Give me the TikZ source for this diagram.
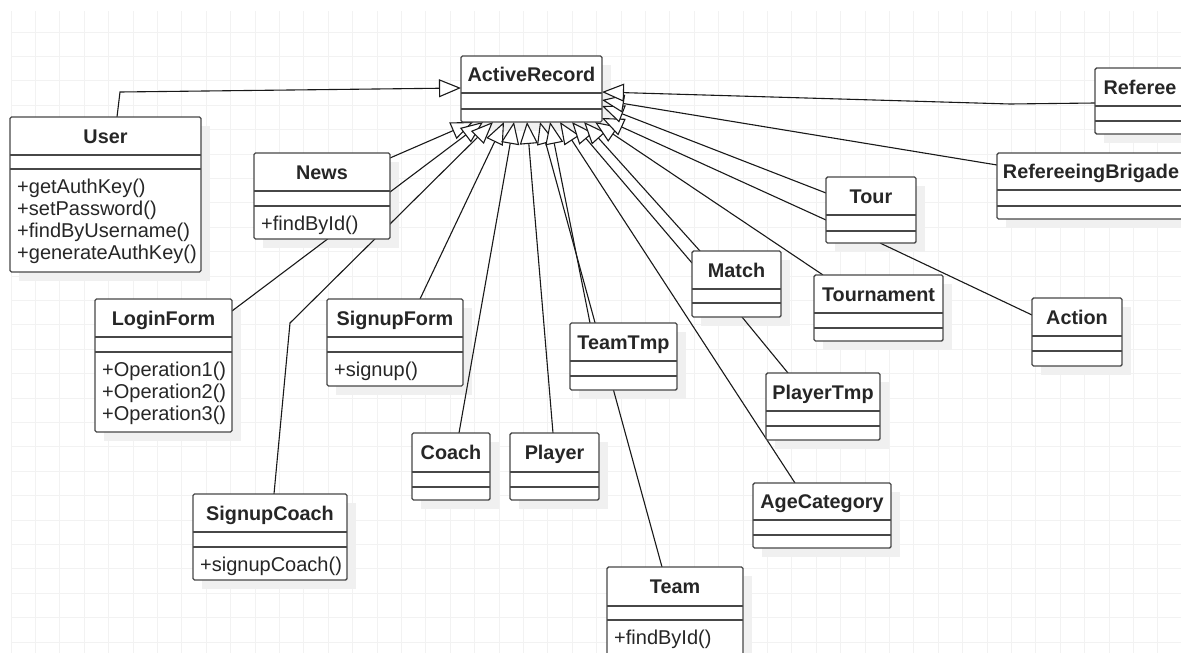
\documentclass[tikz,border=0pt]{standalone}
\usepackage{fontspec}
\setmainfont{Liberation Sans}
\usetikzlibrary{arrows.meta,calc}
\pgfdeclarelayer{gridl}
\pgfdeclarelayer{shadowl}
\pgfdeclarelayer{connl}
\pgfsetlayers{gridl,shadowl,connl,main}

\tikzset{
  gridline/.style={draw=black!5, line width=1pt},
  boxshadow/.style={fill=black!6},
  classbox/.style={draw=black!72, line width=1.4pt, fill=white, rounded corners=1.5pt, inner sep=0pt, outer sep=0pt},
  sepline/.style={draw=black!72, line width=1.4pt},
  classname/.style={font=\bfseries\fontsize{19.8}{22}\selectfont, text=black!85, inner sep=0pt, anchor=base},
  opname/.style={font=\fontsize{20}{22}\selectfont, text=black!85, inner sep=0pt, anchor=base west},
  assoc/.style={draw=black!90, line width=1.1pt},
  inherit/.style={assoc, -{Triangle[length=22pt, width=18pt, fill=white]}},
}

% #1 node name, (#2,#3) top-left corner, #4 width,
% #5 name / #6 attribute / #7 operation compartment heights,
% #8 class name, #9 operations
\newcommand\umlclass[9]{%
  \pgfmathsetmacro\uH{#5+#6+#7}%
  \pgfmathsetmacro\uA{#3+#5}%
  \pgfmathsetmacro\uB{#3+#5+#6}%
  \pgfmathsetmacro\uT{#3+#5/2+7}%
  \pgfmathsetmacro\uC{#2+#4/2}%
  \begin{pgfonlayer}{shadowl}
    \fill[boxshadow] (#2+9,#3+9) rectangle ++(#4,\uH);
  \end{pgfonlayer}
  \node[classbox, anchor=north west, minimum width=#4pt, minimum height=\uH pt] (#1) at (#2,#3) {};
  \draw[sepline] (#2,\uA) -- ++(#4,0);
  \draw[sepline] (#2,\uB) -- ++(#4,0);
  \node[classname] at (\uC,\uT) {#8};
  \foreach \opline [count=\opidx] in {#9} {
    \node[opname] at (#2+7, \uB+24+22*\opidx-22) {\opline};
  }%
}

\begin{document}
\begin{tikzpicture}[x=1pt, y=-1pt]
  \useasboundingbox (0,0) rectangle (1181,653);

  % background grid
  \begin{pgfonlayer}{gridl}
    \fill[white] (0,0) rectangle (1181,653);
    \foreach \i in {0,...,48} {
      \draw[gridline] (11+\i*24.4, 11) -- (11+\i*24.4, 653);
    }
    \foreach \j in {1,...,27} {
      \draw[gridline] (11, 7.65+\j*24.4) -- (1181, 7.65+\j*24.4);
    }
  \end{pgfonlayer}

  % classes
  \umlclass{ar}{461}{56}{141}{37}{16}{13}{ActiveRecord}{}
  \umlclass{user}{10}{117}{191}{38}{14}{103}{User}{+getAuthKey(),+setPassword(),+findByUsername(),+generateAuthKey()}
  \umlclass{news}{254}{153}{136}{38}{15}{33}{News}{+findById()}
  \umlclass{login}{95}{299}{137}{38}{15}{80}{LoginForm}{+Operation1(),+Operation2(),+Operation3()}
  \umlclass{sform}{327}{299}{136}{38}{15}{34}{SignupForm}{+signup()}
  \umlclass{scoach}{193}{494}{154}{38}{15}{33}{SignupCoach}{+signupCoach()}
  \umlclass{coach}{412}{433}{78}{39}{15}{13}{Coach}{}
  \umlclass{player}{510}{433}{89}{39}{15}{13}{Player}{}
  \umlclass{teamtmp}{570}{323}{107}{38}{15}{14}{TeamTmp}{}
  \umlclass{team}{607}{567}{136}{39}{14}{40}{Team}{+findById()}
  \umlclass{match}{692}{251}{89}{38}{14}{14}{Match}{}
  \umlclass{playertmp}{766}{373}{114}{38}{15}{14}{PlayerTmp}{}
  \umlclass{agecat}{753}{483}{138}{37}{15}{13}{AgeCategory}{}
  \umlclass{tournament}{814}{275}{129}{38}{15}{13}{Tournament}{}
  \umlclass{tour}{826}{177}{90}{38}{16}{12}{Tour}{}
  \umlclass{action}{1032}{298}{90}{38}{15}{15}{Action}{}
  \umlclass{referee}{1095}{68}{90}{38}{15}{13}{Referee}{}
  \umlclass{refbrig}{997}{153}{188}{37}{16}{13}{RefereeingBrigade}{}

  % bend points
  \coordinate (userbend) at (120,92);
  \coordinate (scoachbend) at (290,323);
  \coordinate (refereebend) at (1010,104);

  % generalisations and associations
  \begin{pgfonlayer}{connl}
    \draw[inherit] ($(user.north west)+(107,0)$) -- (userbend) -- ($(ar.north west)+(0,32)$);
    \draw[inherit] ($(news.north east)+(0,5)$) -- ($(ar.south west)+(12,0)$);
    \draw[inherit] ($(login.north east)+(0,12)$) -- ($(ar.south west)+(22,0)$);
    \draw[inherit] ($(scoach.north west)+(81,0)$) -- (scoachbend) -- ($(ar.south west)+(32,0)$);
    \draw[inherit] ($(sform.north west)+(93,0)$) -- ($(ar.south west)+(43,0)$);
    \draw[inherit] ($(coach.north west)+(47,0)$) -- ($(ar.south west)+(53,0)$);
    \draw[inherit] ($(player.north west)+(43,0)$) -- ($(ar.south west)+(66,0)$);
    \draw[inherit] ($(team.north west)+(55,0)$) -- ($(ar.south west)+(79,0)$);
    \draw[inherit] ($(teamtmp.north west)+(20,0)$) -- ($(ar.south west)+(89,0)$);
    \draw[inherit] ($(agecat.north west)+(42,0)$) -- ($(ar.south west)+(99,0)$);
    \draw[inherit] ($(match.north west)+(0,12)$) -- ($(ar.south west)+(111,0)$);
    \draw[inherit] ($(match.north west)+(8,0)$) -- ($(ar.south west)+(123,0)$);
    \draw[inherit] ($(tournament.north west)+(9,0)$) -- ($(ar.south west)+(134,0)$);
    \draw[inherit] ($(tour.north west)+(0,43)$) -- ($(ar.south east)+(0,-4)$);
    \draw[inherit] ($(tour.north west)+(0,16)$) -- ($(ar.north east)+(0,50)$);
    \draw[inherit] ($(refbrig.north west)+(0,12)$) -- ($(ar.north east)+(0,44)$);
    \draw[inherit] ($(referee.north west)+(0,35)$) -- (refereebend) -- ($(ar.north east)+(0,36)$);
    \draw[assoc] ($(match.south west)+(50,0)$) -- ($(playertmp.north west)+(22,0)$);
    \draw[assoc] ($(tour.south west)+(54,0)$) -- ($(action.north west)+(0,17)$);
  \end{pgfonlayer}
\end{tikzpicture}
\end{document}
